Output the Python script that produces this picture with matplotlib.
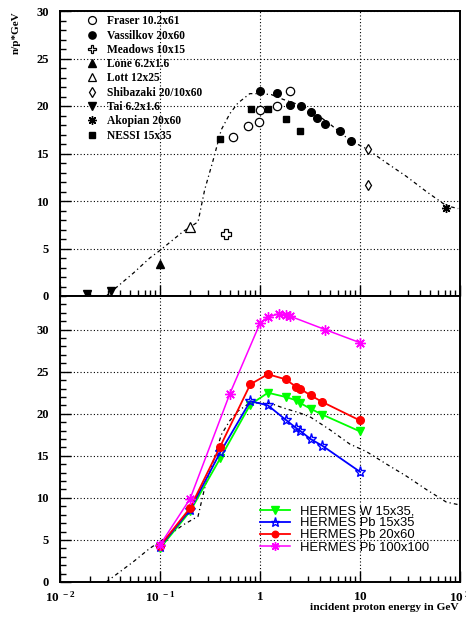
import matplotlib
matplotlib.use("Agg")
import matplotlib.pyplot as plt
from matplotlib.ticker import FixedLocator, FixedFormatter, NullFormatter, MultipleLocator

plt.rcParams['mathtext.fontset'] = 'custom'
plt.rcParams['mathtext.rm'] = 'Liberation Serif:bold'
plt.rcParams['mathtext.bf'] = 'Liberation Serif:bold'
plt.rcParams['mathtext.it'] = 'Liberation Serif:bold'

# ---------------- data: top panel (world data) ----------------
fraser_E = [0.54, 0.75, 0.97, 1.0, 1.48, 2.0]
fraser_v = [16.7, 17.9, 18.3, 19.6, 20.0, 21.6]
vassilkov_E = [1.0, 1.48, 2.0, 2.57, 3.2, 3.7, 4.5, 6.3, 8.1]
vassilkov_v = [21.6, 21.4, 20.1, 20.0, 19.4, 18.7, 18.1, 17.4, 16.3]
meadows_E = [0.457]
meadows_v = [6.5]
lone_E = [0.1]
lone_v = [3.4]
lott_E = [0.198]
lott_v = [7.3]
shibazaki_E = [12.1, 12.1]
shibazaki_v = [15.5, 11.7]
tai_E = [0.0185, 0.032]
tai_v = [0.2, 0.5]
akopian_E = [73.0]
akopian_v = [9.3]
nessi_E = [0.4, 0.81, 1.21, 1.82, 2.51]
nessi_v = [16.5, 19.7, 19.7, 18.6, 17.4]

# dash-dot reference curve (drawn in both panels)
curve_E = [0.029, 0.054, 0.079, 0.1, 0.171, 0.24, 0.28, 0.34, 0.41, 0.5, 0.6, 0.79,
           1.0, 1.3, 1.7, 2.5, 3.2, 5.0, 7.9, 11.6, 18.5, 29.0, 46.0, 73.0, 96.0]
curve_v = [0.0, 2.4, 4.0, 4.8, 6.8, 7.8, 11.2, 14.3, 17.5, 19.2, 20.3, 21.3,
           21.3, 21.2, 20.7, 20.1, 19.6, 18.1, 16.4, 15.5, 14.0, 12.6, 11.0, 9.5, 9.2]

# ---------------- data: bottom panel (HERMES) ----------------
hermes_E = [0.1, 0.2, 0.4, 0.8, 1.2, 1.8, 2.3, 2.5, 3.2, 4.2, 10.0]
hermes_w15 = [4.0, 8.4, 14.7, 21.1, 22.5, 22.0, 21.6, 21.3, 20.6, 19.9, 17.9]
hermes_pb15 = [4.2, 8.6, 15.4, 21.5, 21.0, 19.3, 18.3, 18.0, 17.0, 16.2, 13.1]
hermes_pb20 = [4.3, 8.8, 16.1, 23.5, 24.7, 24.1, 23.2, 23.0, 22.2, 21.4, 19.2]
hermes100_E = [0.1, 0.2, 0.5, 1.0, 1.2, 1.55, 1.8, 2.0, 4.5, 10.0]
hermes_pb100 = [4.4, 9.9, 22.4, 30.75, 31.5, 31.9, 31.8, 31.6, 30.0, 28.45]

x_ticks = [0.01, 0.1, 1, 10, 100]
x_ticklabels = [r'$\mathbf{10^{\ -2}}$', r'$\mathbf{10^{\ -1}}$', r'$\mathbf{1}$',
                r'$\mathbf{10}$', r'$\mathbf{10^{\ 2}}$']

W, H = 466, 617
fig = plt.figure(figsize=(W / 100, H / 100), dpi=100)
ax1 = fig.add_axes([60 / W, 1 - 296 / H, 400 / W, 285 / H])
ax2 = fig.add_axes([60 / W, 1 - 582 / H, 400 / W, 286 / H])

serif = 'Liberation Serif'
sans = 'Liberation Sans'

for ax, ymax in ((ax1, 30), (ax2, 34)):
    ax.set_xscale('log')
    ax.set_xlim(0.01, 100)
    ax.set_ylim(0, ymax)
    ax.xaxis.set_major_locator(FixedLocator(x_ticks))
    ax.yaxis.set_major_locator(MultipleLocator(5))
    ax.yaxis.set_minor_locator(MultipleLocator(1))
    ax.tick_params(which='both', direction='in', top=False, right=False, width=1.0)
    ax.tick_params(which='major', length=8)
    ax.tick_params(which='minor', length=4)
    ax.tick_params(axis='y', pad=8)
    ax.tick_params(axis='x', pad=6)
    ax.grid(True, which='major', color='black', linestyle=(0, (1, 2)), linewidth=0.8)
    for s in ax.spines.values():
        s.set_linewidth(1.4)
    for lab in ax.get_yticklabels():
        lab.set_fontfamily(serif)
        lab.set_fontweight('bold')
        lab.set_fontsize(9)
    ax.plot(curve_E, curve_v, color='black', linestyle=(0, (3, 2.5, 1, 2.5)),
            linewidth=0.9, zorder=2)

ax1.xaxis.set_major_formatter(NullFormatter())
ax1.xaxis.set_minor_formatter(NullFormatter())
ax2.xaxis.set_major_formatter(FixedFormatter(x_ticklabels))
ax2.xaxis.set_minor_formatter(NullFormatter())
for lab in ax2.get_xticklabels():
    lab.set_fontsize(9.5)

# ---------- top panel markers ----------
ms = 5.5
ax1.plot(fraser_E, fraser_v, 'o', mfc='white', mec='black', ms=ms + 0.5, mew=0.9,
         linestyle='none', label='Fraser 10.2x61', zorder=4)
ax1.plot(vassilkov_E, vassilkov_v, 'o', color='black', ms=ms,
         linestyle='none', label='Vassilkov 20x60', zorder=4)
ax1.plot(meadows_E, meadows_v, 'P', mfc='white', mec='black', ms=ms + 1, mew=0.9,
         linestyle='none', label='Meadows 10x15', zorder=4)
ax1.plot(lone_E, lone_v, '^', color='black', ms=ms,
         linestyle='none', label='Lone 6.2x1.6', zorder=4)
ax1.plot(lott_E, lott_v, '^', mfc='white', mec='black', ms=ms + 1, mew=0.9,
         linestyle='none', label='Lott 12x25', zorder=4)
ax1.plot(shibazaki_E, shibazaki_v, 'd', mfc='white', mec='black', ms=ms, mew=0.9,
         linestyle='none', label='Shibazaki 20/10x60', zorder=4)
ax1.plot(tai_E, tai_v, 'v', color='black', ms=ms,
         linestyle='none', label='Tai 6.2x1.6', zorder=4, clip_on=False)
ax1.plot(akopian_E, akopian_v, marker=(8, 2, 0), color='black', ms=ms + 1, mew=1.0,
         linestyle='none', label='Akopian 20x60', zorder=4)
ax1.plot(nessi_E, nessi_v, 's', color='black', ms=ms - 0.5,
         linestyle='none', label='NESSI 15x35', zorder=4)

leg1 = ax1.legend(loc='upper left', bbox_to_anchor=(0.066, 0.985), frameon=False,
                  numpoints=1, handlelength=1.0, handletextpad=0.8,
                  labelspacing=0.2, borderpad=0, borderaxespad=0, markerscale=0.95,
                  prop={'family': serif, 'weight': 'bold', 'size': 8.3})

# ---------- bottom panel ----------
ax2.plot(hermes_E, hermes_w15, color='#00ff00', marker='v', ms=6, lw=1.3,
         label='HERMES W 15x35,', zorder=4)
ax2.plot(hermes_E, hermes_pb15, color='#0000ff', marker='*', ms=8, mfc='none',
         mew=1.0, lw=1.3, label='HERMES Pb 15x35', zorder=4)
ax2.plot(hermes_E, hermes_pb20, color='#ff0000', marker='o', ms=5.5, lw=1.3,
         label='HERMES Pb 20x60', zorder=4)
ax2.plot(hermes100_E, hermes_pb100, color='#ff00ff', marker=(8, 2, 0), ms=7.5,
         mew=1.0, lw=1.1, label='HERMES Pb 100x100', zorder=4)

leg2 = ax2.legend(loc='upper left', bbox_to_anchor=(0.5, 0.269), frameon=False,
                  numpoints=1, handlelength=2.3, handletextpad=0.75,
                  labelspacing=0.0, borderpad=0, borderaxespad=0, markerscale=0.85,
                  prop={'family': sans, 'size': 9.4})

fig.text(16 / W, 1 - 11 / H, 'n/p*GeV', rotation=90, ha='center', va='top',
         fontfamily=serif, fontweight='bold', fontsize=8)
fig.text(459 / W, 1 - 608 / H, 'incident proton energy in GeV', ha='right',
         va='center', fontfamily=serif, fontweight='bold', fontsize=8.2)

fig.savefig('out.png', dpi=100)
